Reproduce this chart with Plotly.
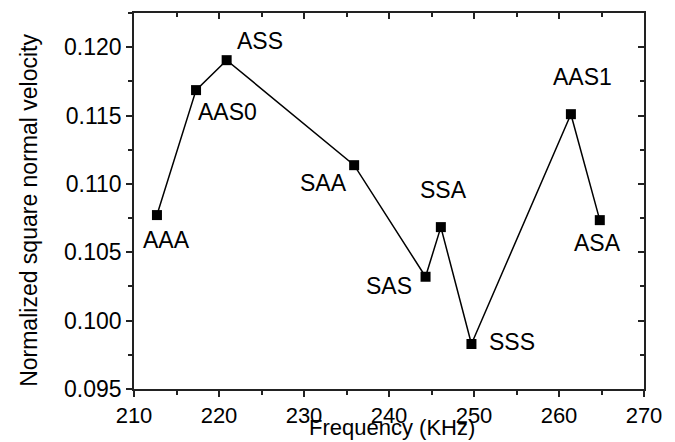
import plotly.graph_objects as go

# Resonance modes: frequency (KHz) vs normalized square normal velocity
modes = ["AAA", "AAS0", "ASS", "SAA", "SAS", "SSA", "SSS", "AAS1", "ASA"]
freq = [212.7, 217.3, 220.9, 235.9, 244.3, 246.1, 249.7, 261.4, 264.8]
velocity = [0.10772, 0.11686, 0.11905, 0.11137, 0.10321, 0.10684, 0.09829, 0.11510, 0.10735]

# label offsets (pixels) relative to each point
label_dx = [10, 31, 33, -31, -37, 3, 41, 12, -2]
label_dy = [-25, -22, 19, -18, -9, 37, 2, 37, -23]

FONT = "Liberation Sans, Arial, sans-serif"
AX = "#222222"
FS = 23

fig = go.Figure()
fig.add_trace(go.Scatter(
    x=freq, y=velocity, mode="lines+markers",
    line=dict(color="black", width=1.5),
    marker=dict(symbol="square", size=10, color="black"),
    showlegend=False, hoverinfo="x+y",
))
# placeholder trace so the mirrored frame axes are drawn
fig.add_trace(go.Scatter(x=[None], y=[None], xaxis="x2", yaxis="y2",
                         showlegend=False, hoverinfo="skip"))

for m, fx, vy, dx, dy in zip(modes, freq, velocity, label_dx, label_dy):
    fig.add_annotation(x=fx, y=vy, text=m, showarrow=False,
                       xshift=dx, yshift=dy,
                       font=dict(family=FONT, size=FS, color="black"))

# axis titles
fig.add_annotation(xref="paper", yref="paper", x=-0.205, y=0.475,
                   text="Normalized square normal velocity", textangle=-90,
                   showarrow=False, xanchor="center", yanchor="middle",
                   font=dict(family=FONT, size=FS, color="black"))
fig.add_annotation(xref="paper", yref="paper", x=0.506, y=-0.141,
                   text="Frequency (KHz)", showarrow=False,
                   xanchor="center", yanchor="bottom",
                   font=dict(family=FONT, size=22, color="black"))

xr = [210, 270]
yr = [0.095, 0.1225]
fig.update_layout(
    width=675, height=442,
    margin=dict(l=134, r=31, t=13, b=53, autoexpand=False),
    plot_bgcolor="white", paper_bgcolor="white",
    font=dict(family=FONT, size=FS, color="black"),
    xaxis=dict(range=xr, dtick=10, tick0=210, ticks="outside", ticklen=6,
               tickwidth=1.5, tickcolor=AX, showline=True, linecolor=AX,
               linewidth=1.5, showgrid=False, zeroline=False, automargin=False,
               tickfont=dict(size=22),
               minor=dict(ticks="outside", dtick=5, ticklen=4, tickcolor=AX, tickwidth=1.5)),
    yaxis=dict(range=yr, dtick=0.005, tick0=0.095, tickformat=".3f",
               ticks="outside", ticklen=6, tickwidth=1.5, tickcolor=AX,
               showline=True, linecolor=AX, linewidth=1.5, showgrid=False,
               zeroline=False, automargin=False,
               minor=dict(ticks="outside", dtick=0.0025, ticklen=4, tickcolor=AX, tickwidth=1.5)),
    xaxis2=dict(range=xr, overlaying="x", side="top", anchor="y2", dtick=10, tick0=210,
                ticks="inside", ticklen=6, tickwidth=1.5, tickcolor=AX,
                showline=True, linecolor=AX, linewidth=1.5, showgrid=False,
                zeroline=False, showticklabels=False, automargin=False,
                minor=dict(ticks="inside", dtick=5, ticklen=4, tickcolor=AX, tickwidth=1.5)),
    yaxis2=dict(range=yr, overlaying="y", side="right", anchor="x2", dtick=0.005, tick0=0.095,
                ticks="inside", ticklen=6, tickwidth=1.5, tickcolor=AX,
                showline=True, linecolor=AX, linewidth=1.5, showgrid=False,
                zeroline=False, showticklabels=False, automargin=False,
                minor=dict(ticks="inside", dtick=0.0025, ticklen=4, tickcolor=AX, tickwidth=1.5)),
)

fig.write_html("out.html")
